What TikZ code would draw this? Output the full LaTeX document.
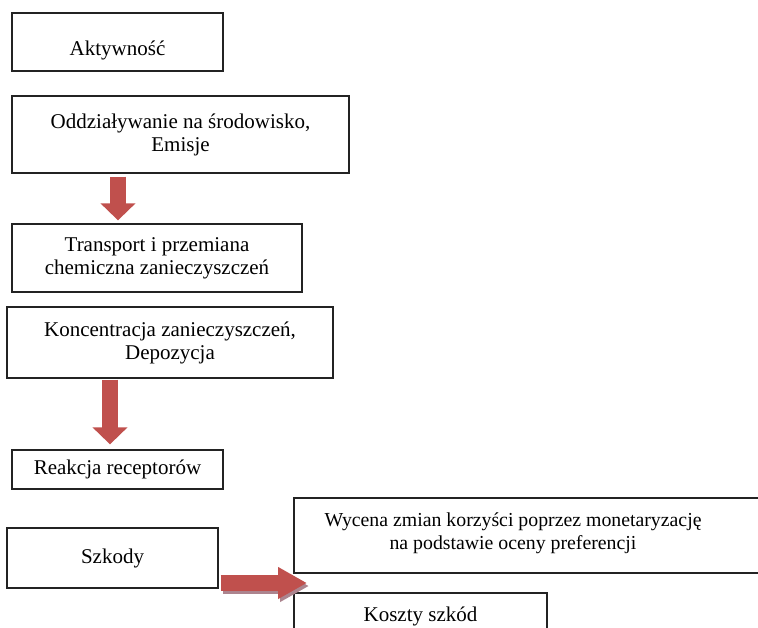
\documentclass[tikz,border=0pt]{standalone}
\usepackage{fontspec}
\setmainfont{Liberation Serif}
\usepackage{tikz}
\usetikzlibrary{arrows.meta, positioning}
\definecolor{arrowred}{RGB}{192,80,77}
\definecolor{arrowshade}{RGB}{172,132,142}
\definecolor{boxline}{RGB}{35,35,35}
\tikzset{
  box/.style={draw=boxline, line width=0.65pt, inner sep=0pt, align=center,
    font=\fontsize{10.5}{11.5}\selectfont},
  txt/.style={inner sep=0pt, align=center, font=\fontsize{9.9}{11.5}\selectfont},
  downarrow/.style={draw=arrowred, line width=8pt, -{Triangle[width=17pt,length=8.5pt]}},
  rightarrow/.style={draw=#1, line width=8pt, -{Triangle[width=15pt,length=14.5pt]}}}

\begin{document}
\begin{tikzpicture}[x=0.5pt, y=-0.5pt]
  \clip (0,0) rectangle (758,627);
    \node [box, minimum width=105.5pt, minimum height=29pt, text height=15pt, text depth=2pt] (akt) at (117.5,42) {Aktywność};
    \node [box, minimum width=168.5pt, minimum height=38.5pt] (odd) at (180.5,134.5) {Oddziaływanie na środowisko,\\ Emisje};
        \node [box, minimum width=145pt, minimum height=34pt] (trans) at (157,258) {Transport i przemiana\\ chemiczna zanieczyszczeń};
        \node [box, minimum width=163pt, minimum height=35.5pt] (konc) at (170,342.5) {Koncentracja zanieczyszczeń,\\ Depozycja};
           \node [box, minimum width=105.5pt, minimum height=19.5pt] (reak) at (117.5,469.5) {Reakcja receptorów};
           \node [box, minimum width=105.5pt, minimum height=30pt] (szk) at (112.5,558) {Szkody};
    \node [box, minimum width=234pt, minimum height=37.5pt] (wyc) at (528,535.5) {};
    \node [txt] (wyctxt) at (513,533) {Wycena zmian korzyści poprzez monetaryzację\\ na podstawie oceny preferencji};
    \node [box, minimum width=126.5pt, minimum height=23.5pt] (kosz) at (420.5,616.5) {Koszty szkód};
    \coordinate (a1) at (118,0);
    \coordinate (a2) at (110,0);
    \coordinate (tip) at (307,583);
     \draw [downarrow, shorten <=1.5pt, shorten >=1.5pt] (a1 |- odd.south) -- (a1 |- trans.north);
     \draw [downarrow, shorten <=0.5pt, shorten >=2.5pt] (a2 |- konc.south) -- (a2 |- reak.north);
     \draw [rightarrow=arrowshade, shorten <=1pt, transform canvas={shift={(1pt,-1.5pt)}}] (szk.east |- tip) -- (tip);
     \draw [rightarrow=arrowred, shorten <=1pt] (szk.east |- tip) -- (tip);
\end{tikzpicture}
\end{document}
